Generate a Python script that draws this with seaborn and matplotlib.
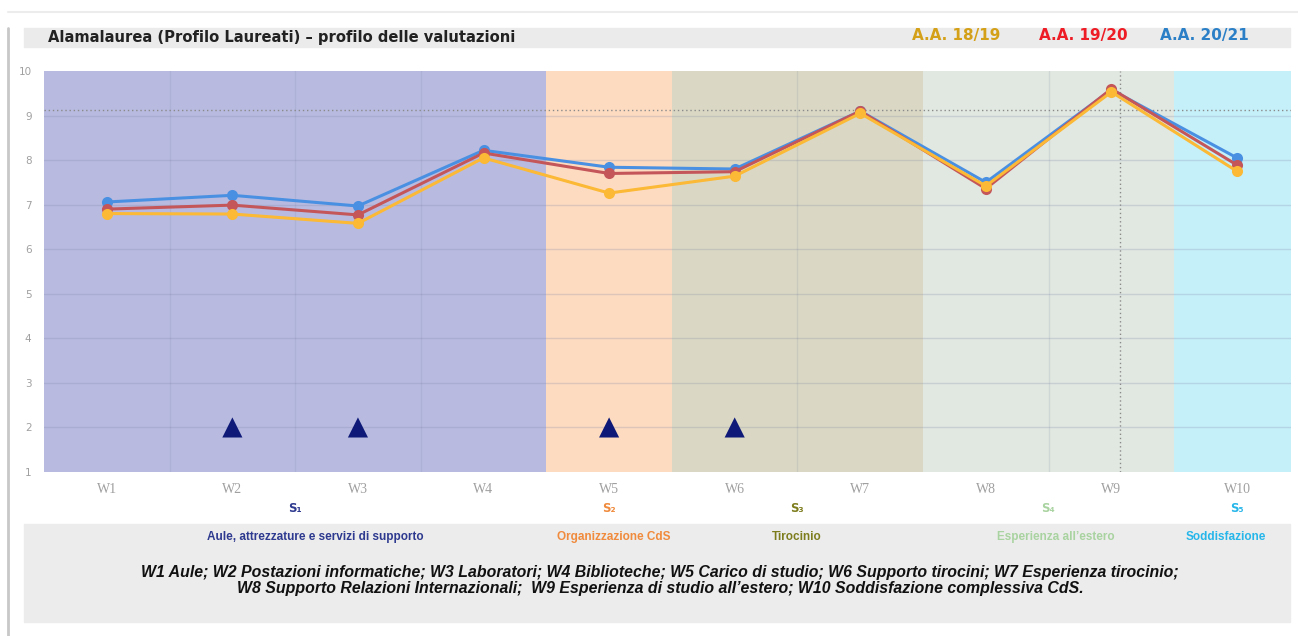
import numpy as np
import pandas as pd
import matplotlib
matplotlib.use("Agg")
import matplotlib.pyplot as plt
import seaborn as sns
from matplotlib.patches import Rectangle

# ---- data ----
items = ["W1", "W2", "W3", "W4", "W5", "W6", "W7", "W8", "W9", "W10"]
tick_labels = ["W1", "W2", "W3", "W4", "W5", "W6", "W7", "W8", "W9", "W10"]
aa_2021 = [7.06, 7.21, 6.97, 8.22, 7.84, 7.80, 9.10, 7.50, 9.58, 8.05]
aa_1920 = [6.90, 6.99, 6.77, 8.16, 7.70, 7.74, 9.10, 7.36, 9.60, 7.89]
aa_1819 = [6.80, 6.79, 6.58, 8.05, 7.26, 7.64, 9.05, 7.42, 9.53, 7.75]
series_names = ["A.A. 20/21", "A.A. 19/20", "A.A. 18/19"]
flag_items = ["W2", "W3", "W5", "W6"]
flag_values = [2, 2, 2, 2]
sections = ["S\u2081", "S\u2082", "S\u2083", "S\u2084", "S\u2085"]
section_spans = [(0, 3), (4, 4), (5, 6), (7, 8), (9, 9)]
section_names = ["Aule, attrezzature e servizi di supporto", "Organizzazione CdS",
                 "Tirocinio", "Esperienza all\u2019estero", "Soddisfazione"]
ref_level = 9.13

# ---- style ----
sns.set_style("white")
plt.rcParams["font.family"] = ["DejaVu Sans"]

W, H = 1298, 636
fig = plt.figure(figsize=(W / 100, H / 100), dpi=100)
fig.patch.set_facecolor("white")

def fx(px):
    return px / W

def fy(py):
    return 1 - py / H

# card border / bands
fig.add_artist(plt.Line2D([fx(8), fx(8)], [fy(28), fy(636)], color="#c8c8c8", lw=2))
fig.add_artist(plt.Line2D([fx(8), fx(1298)], [fy(12), fy(12)], color="#ececec", lw=1.5))
fig.add_artist(Rectangle((fx(24), fy(47)), fx(1266), fy(28) - fy(47), color="#ebebeb", zorder=0))
fig.add_artist(Rectangle((fx(24), fy(622)), fx(1266), fy(524) - fy(622), color="#ececec", zorder=0))

ax = fig.add_axes([fx(44), fy(472), fx(1291 - 44), fy(71) - fy(472)])

band_colors = ["#b8bbdf", "#fddbc1", "#dad8c4", "#e1e8e1", "#c5f0fa"]
for (a, b), c in zip(section_spans, band_colors):
    right = b + 0.5 if b < 9 else 9.5
    ax.axvspan(a - 0.5, right, color=c, zorder=0, lw=0)

ax.set_xlim(-0.5, 9.43)
ax.set_ylim(1, 10)
ax.set_yticks(range(1, 11))
for yv in range(2, 10):
    ax.axhline(yv, color="#7f86a8", alpha=0.25, lw=1, zorder=1)
for xv in [0.5, 1.5, 2.5, 5.5, 7.5]:
    ax.axvline(xv, color="#7f86a8", alpha=0.18, lw=1, zorder=1)
ax.axhline(ref_level, color="#8a8a8a", ls=(0, (1, 2)), lw=1, zorder=2)
ax.axvline(8.07, color="#8a8a8a", ls=(0, (1, 2)), lw=1, zorder=2)

df = pd.DataFrame({
    "x": list(range(len(items))) * 3,
    "value": aa_2021 + aa_1920 + aa_1819,
    "serie": sum([[n] * len(items) for n in series_names], []),
})
palette = {"A.A. 20/21": "#4a90e2", "A.A. 19/20": "#c4565a", "A.A. 18/19": "#fbb935"}
sns.lineplot(data=df, x="x", y="value", hue="serie", hue_order=series_names,
             palette=palette, marker="o", markersize=8, markeredgewidth=0,
             linewidth=2.2, ax=ax, legend=False, zorder=5)

fdf = pd.DataFrame({"x": [items.index(i) for i in flag_items], "v": flag_values})
sns.scatterplot(data=fdf, x="x", y="v", marker="^", s=210, color="#0f1a78",
                edgecolor="none", ax=ax, zorder=6, legend=False)

ax.set_xticks(range(len(items)))
ax.set_xticklabels(tick_labels, family="Liberation Serif", color="#a0a0a0", fontsize=10)
ax.set_yticklabels([str(i) for i in range(1, 11)], color="#a0a0a0", fontsize=7.5)
ax.tick_params(axis="x", length=0, pad=8)
ax.tick_params(axis="y", length=0, pad=9)
ax.set_xlabel("")
ax.set_ylabel("")
for s in ax.spines.values():
    s.set_visible(False)

# title & legend texts
fig.text(fx(48), fy(37.5), "Alamalaurea (Profilo Laureati) \u2013 profilo delle valutazioni",
         fontsize=10.6, fontweight="bold", color="#222222", va="center", ha="left")
leg_cols = ["#d4a017", "#ee1c25", "#2a7fc6"]
leg_x = [956, 1083, 1204]
for n, c, x in zip(["A.A. 18/19", "A.A. 19/20", "A.A. 20/21"], leg_cols, leg_x):
    fig.text(fx(x), fy(35.5), n, fontsize=11, fontweight="bold", color=c,
             ha="center", va="center")

# section labels
sec_colors = ["#2e3a8f", "#f08a3c", "#7d7d1e", "#a9d3a0", "#27b6ea"]
sec_x = [295, 609, 797, 1048, 1237]
name_x = [315, 614, 797, 1056, 1226]
for s, c, x in zip(sections, sec_colors, sec_x):
    fig.text(fx(x), fy(509), s, fontsize=8.5, color=c, ha="center", va="center",
             family="DejaVu Sans", fontweight="bold")
for nme, c, x in zip(section_names, sec_colors, name_x):
    fig.text(fx(x), fy(537), nme, fontsize=8.5, color=c, ha="center", va="center",
             family=["Liberation Sans"], fontweight="bold")

foot1 = ("W1 Aule; W2 Postazioni informatiche; W3 Laboratori; W4 Biblioteche; W5 Carico di studio; "
         "W6 Supporto tirocini; W7 Esperienza tirocinio;")
foot2 = ("W8 Supporto Relazioni Internazionali;  W9 Esperienza di studio all\u2019estero; "
         "W10 Soddisfazione complessiva CdS.")
for t, y in [(foot1, 573), (foot2, 589)]:
    fig.text(fx(660), fy(y), t, fontsize=11.4, fontweight="bold", style="italic",
             color="#111111", ha="center", va="center",
             family=["Liberation Sans"])

fig.savefig("out.png", dpi=100)
